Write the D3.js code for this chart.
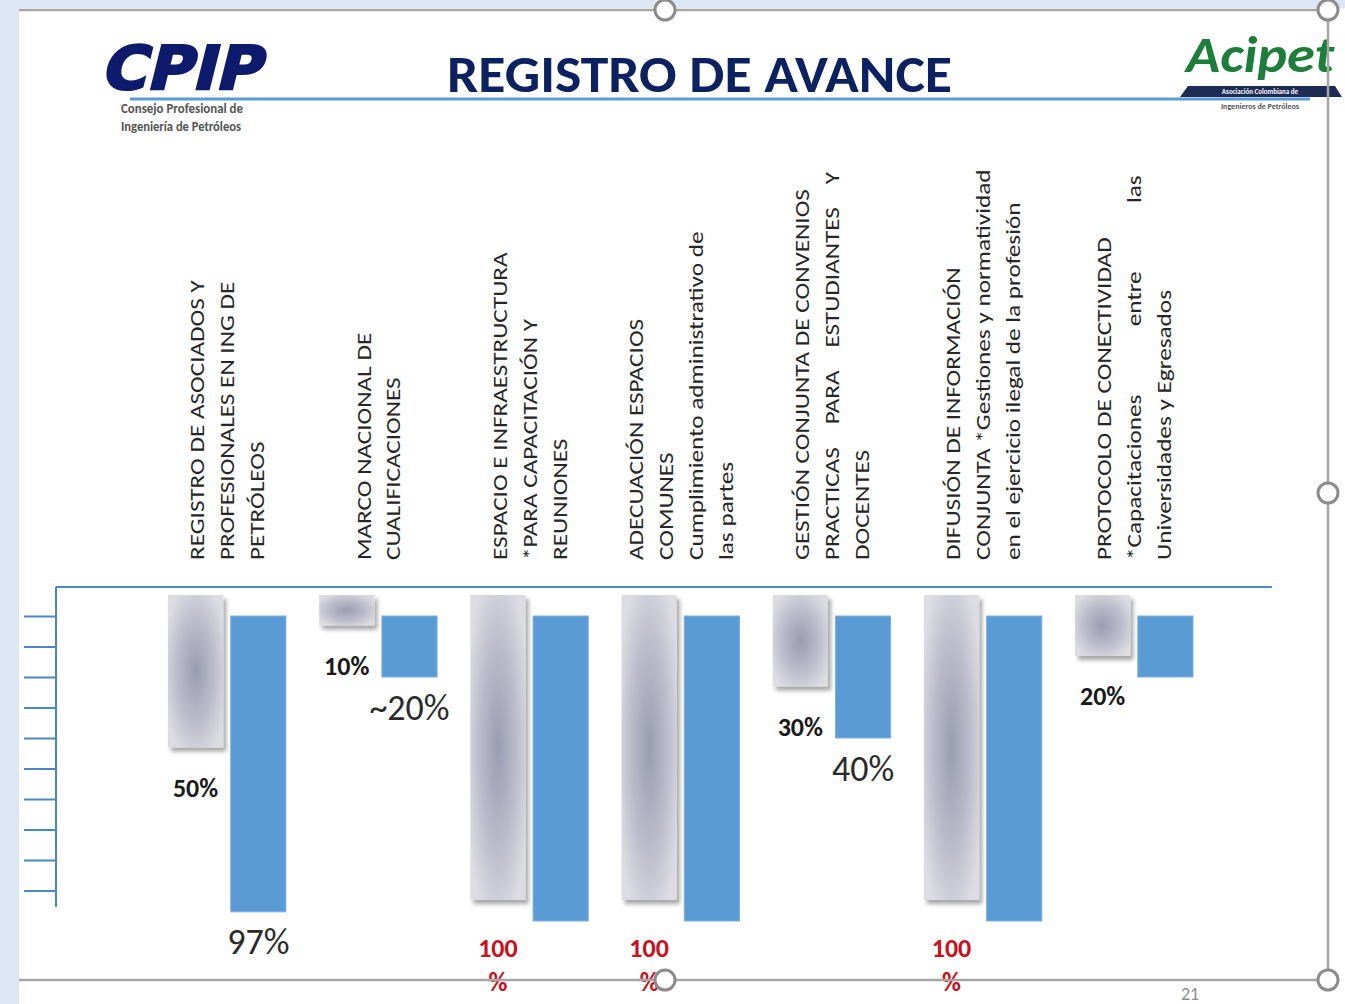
<!DOCTYPE html>
<html>
<head>
<meta charset="utf-8">
<script src="https://cdn.jsdelivr.net/npm/d3@7"></script>
<style>
  body { margin: 0; background: #dce6f4; }
  svg { display: block; }
  text { font-family: Carlito, 'Open Sans', sans-serif; }
</style>
</head>
<body>
<div id="chart"></div>
<script>
// categories (rotated labels, one entry per line)
var categories = [
  ['REGISTRO DE ASOCIADOS Y', 'PROFESIONALES EN ING DE', 'PETRÓLEOS'],
  ['MARCO NACIONAL DE', 'CUALIFICACIONES'],
  ['ESPACIO E INFRAESTRUCTURA', '*PARA CAPACITACIÓN Y', 'REUNIONES'],
  ['ADECUACIÓN ESPACIOS', 'COMUNES', 'Cumplimiento administrativo de', 'las partes'],
  ['GESTIÓN CONJUNTA DE CONVENIOS', 'PRACTICAS    PARA    ESTUDIANTES    Y', 'DOCENTES'],
  ['DIFUSIÓN DE INFORMACIÓN', 'CONJUNTA *Gestiones y normatividad', 'en el ejercicio ilegal de la profesión'],
  ['PROTOCOLO DE CONECTIVIDAD', '*Capacitaciones            entre            las', 'Universidades y Egresados']
]
// previous progress (gray) and current progress (blue), in %
var previous = [50, 10, 100, 100, 30, 100, 20]
var current = [97, 20, 100, 100, 40, 100, 20]
var previousLabels = ['50%', '10%', '100 %', '100 %', '30%', '100 %', '20%']
var currentLabels = ['97%', '~20%', '', '', '40%', '', '']
var tickValues = [0, 10, 20, 30, 40, 50, 60, 70, 80, 90]

var w = 1345, h = 1004

var svg = d3.select('#chart').append('svg')
  .attr('width', w)
  .attr('height', h)

var defs = svg.append('defs')

var grad = defs.append('radialGradient')
  .attr('id', 'grayGrad')
  .attr('cx', '0.5').attr('cy', '0.5').attr('r', '0.6')
grad.append('stop').attr('offset', '0%').attr('stop-color', '#9a9cb2')
grad.append('stop').attr('offset', '55%').attr('stop-color', '#bbbcca')
grad.append('stop').attr('offset', '100%').attr('stop-color', '#dcdce2')

var shadow = defs.append('filter').attr('id', 'shadow')
  .attr('x', '-20%').attr('y', '-20%').attr('width', '150%').attr('height', '150%')
shadow.append('feDropShadow')
  .attr('dx', 3).attr('dy', 4).attr('stdDeviation', 2)
  .attr('flood-color', '#000').attr('flood-opacity', 0.35)

var headShadow = defs.append('filter').attr('id', 'headShadow')
  .attr('x', '-5%').attr('y', '-200%').attr('width', '110%').attr('height', '600%')
headShadow.append('feGaussianBlur').attr('stdDeviation', 2)

// slide background
svg.append('rect')
  .attr('x', 19).attr('y', 8)
  .attr('width', w - 19).attr('height', h - 8)
  .attr('fill', '#fff')

// ---- header ----
svg.append('line')
  .attr('x1', 130).attr('x2', 1310)
  .attr('y1', 103).attr('y2', 103)
  .attr('stroke', '#999').attr('stroke-width', 4)
  .attr('filter', 'url(#headShadow)')
svg.append('line')
  .attr('x1', 130).attr('x2', 1310)
  .attr('y1', 99).attr('y2', 99)
  .attr('stroke', '#5b9bd5').attr('stroke-width', 3)

svg.append('text')
  .attr('x', 447).attr('y', 92)
  .attr('textLength', 505)
  .attr('lengthAdjust', 'spacingAndGlyphs')
  .style('font-size', '52px')
  .style('font-weight', 'bold')
  .attr('fill', '#0b2160')
  .text('REGISTRO DE AVANCE')

// CPIP logo
svg.append('text')
  .attr('transform', 'translate(100,89) skewX(-14)')
  .attr('textLength', 160)
  .attr('lengthAdjust', 'spacingAndGlyphs')
  .style('font-family', 'DejaVu Sans')
  .style('font-size', '60px')
  .style('font-weight', 'bold')
  .attr('fill', '#0e1a6b')
  .attr('stroke', '#0e1a6b')
  .attr('stroke-width', 2.5)
  .text('CPIP')
svg.append('text')
  .attr('x', 121).attr('y', 113)
  .attr('textLength', 122).attr('lengthAdjust', 'spacingAndGlyphs')
  .style('font-size', '13px').style('font-weight', 'bold')
  .attr('fill', '#555')
  .text('Consejo Profesional de')
svg.append('text')
  .attr('x', 121).attr('y', 131)
  .attr('textLength', 120).attr('lengthAdjust', 'spacingAndGlyphs')
  .style('font-size', '13px').style('font-weight', 'bold')
  .attr('fill', '#555')
  .text('Ingeniería de Petróleos')

// Acipet logo
svg.append('text')
  .attr('x', 1186).attr('y', 72)
  .attr('textLength', 148).attr('lengthAdjust', 'spacingAndGlyphs')
  .style('font-size', '50px').style('font-weight', 'bold').style('font-style', 'italic')
  .attr('fill', '#1d7d3b')
  .text('Acipet')
svg.append('path')
  .attr('d', 'M1188,86 L1335,86 L1342,97 L1180,97 Z')
  .attr('fill', '#1c2c55')
svg.append('text')
  .attr('x', 1260).attr('y', 94)
  .attr('text-anchor', 'middle')
  .style('font-size', '7px').style('font-weight', 'bold')
  .attr('fill', '#fff')
  .text('Asociación Colombiana de')
svg.append('text')
  .attr('x', 1260).attr('y', 109)
  .attr('text-anchor', 'middle')
  .style('font-size', '8px').style('font-weight', 'bold')
  .attr('fill', '#555')
  .text('Ingenieros de Petróleos')

// ---- chart ----
var x0 = d3.scaleBand()
  .domain(d3.range(categories.length))
  .range([168, 1193])
  .paddingInner(0.22)
  .paddingOuter(0)

var x1 = d3.scaleBand()
  .domain(['prev', 'curr'])
  .range([0, x0.bandwidth()])
  .paddingInner(0.12)

var yGray = d3.scaleLinear().domain([0, 100]).range([595, 900])
var yBlue = d3.scaleLinear().domain([0, 100]).range([616, 921])

// axis
var axisColor = '#4a86c8'
var axisG = svg.append('g')
  .attr('transform', 'translate(56,0)')
  .call(d3.axisLeft(yBlue).tickValues(tickValues).tickSize(32).tickFormat(''))
axisG.select('.domain').remove()
axisG.selectAll('.tick line')
  .attr('stroke', axisColor)
  .attr('stroke-width', 2)

svg.append('line')
  .attr('x1', 56).attr('x2', 56)
  .attr('y1', 587).attr('y2', 907)
  .attr('stroke', axisColor).attr('stroke-width', 2)
svg.append('line')
  .attr('x1', 56).attr('x2', 1272)
  .attr('y1', 587).attr('y2', 587)
  .attr('stroke', axisColor).attr('stroke-width', 2)

var groups = svg.selectAll('.group')
  .data(categories)
  .enter().append('g')
  .attr('class', 'group')
  .attr('transform', function(d, i) {return 'translate(' + x0(i) + ',0)'})

// gray bars (previous)
groups.append('rect')
  .attr('x', x1('prev'))
  .attr('y', yGray(0))
  .attr('width', x1.bandwidth())
  .attr('height', function(d, i) {return yGray(previous[i]) - yGray(0)})
  .attr('fill', 'url(#grayGrad)')
  .attr('filter', 'url(#shadow)')

// blue bars (current)
groups.append('rect')
  .attr('x', x1('curr'))
  .attr('y', yBlue(0))
  .attr('width', x1.bandwidth())
  .attr('height', function(d, i) {return yBlue(current[i]) - yBlue(0)})
  .attr('fill', '#5b9bd5')
  .attr('stroke', '#7fb0de')
  .attr('stroke-width', 1)

// rotated category labels (text is stretched along its direction like the slide)
groups.each(function(lines, i) {
  var cx = x0.bandwidth() / 2
  var n = lines.length
  var t = d3.select(this).append('g')
    .attr('transform', 'translate(' + cx + ',560) rotate(-90) scale(1.2,1)')
  t.selectAll('text')
    .data(lines)
    .enter().append('text')
    .attr('x', 0)
    .attr('y', function(d, j) {return (j - (n - 1) / 2) * 30})
    .attr('dy', '0.35em')
    .style('font-size', '21px')
    .style('white-space', 'pre')
    .attr('fill', '#262626')
    .text(function(d) {return d})
})

// previous value labels
groups.each(function(d, i) {
  var lbl = previousLabels[i]
  var full = previous[i] === 100
  var g = d3.select(this)
  var cx = x1('prev') + x1.bandwidth() / 2
  var parts = full ? lbl.split(' ') : [lbl]
  g.selectAll('.plabel')
    .data(parts)
    .enter().append('text')
    .attr('class', 'plabel')
    .attr('x', cx)
    .attr('y', function(p, j) {return yGray(previous[i]) + (full ? 48 : 40) + j * 34})
    .attr('dy', '0.35em')
    .attr('text-anchor', 'middle')
    .style('font-size', '26px')
    .style('font-weight', 'bold')
    .attr('fill', full ? '#c8101e' : '#1a1a1a')
    .text(function(p) {return p})
})

// current value labels
groups.append('text')
  .attr('x', x1('curr') + x1.bandwidth() / 2)
  .attr('y', function(d, i) {return yBlue(current[i]) + 30})
  .attr('dy', '0.35em')
  .attr('text-anchor', 'middle')
  .style('font-size', '36px')
  .attr('fill', '#2a2a2a')
  .text(function(d, i) {return currentLabels[i]})

// ---- slide frame & selection handles ----
var frame = '#a6a6a6'
svg.append('path')
  .attr('d', 'M19,10 L1328,10 L1328,980 L19,980')
  .attr('fill', 'none')
  .attr('stroke', frame).attr('stroke-width', 2.5)

svg.append('text')
  .attr('x', 1190).attr('y', 1000)
  .attr('text-anchor', 'middle')
  .style('font-size', '18px')
  .attr('fill', '#8c8c8c')
  .text('21')

var handles = [[665, 10], [1328, 10], [1328, 493], [665, 980], [1328, 980]]
svg.selectAll('.handle')
  .data(handles)
  .enter().append('circle')
  .attr('class', 'handle')
  .attr('cx', function(d) {return d[0]})
  .attr('cy', function(d) {return d[1]})
  .attr('r', 10)
  .attr('fill', '#fff')
  .attr('stroke', '#8c8c8c')
  .attr('stroke-width', 3)
</script>
</body>
</html>
